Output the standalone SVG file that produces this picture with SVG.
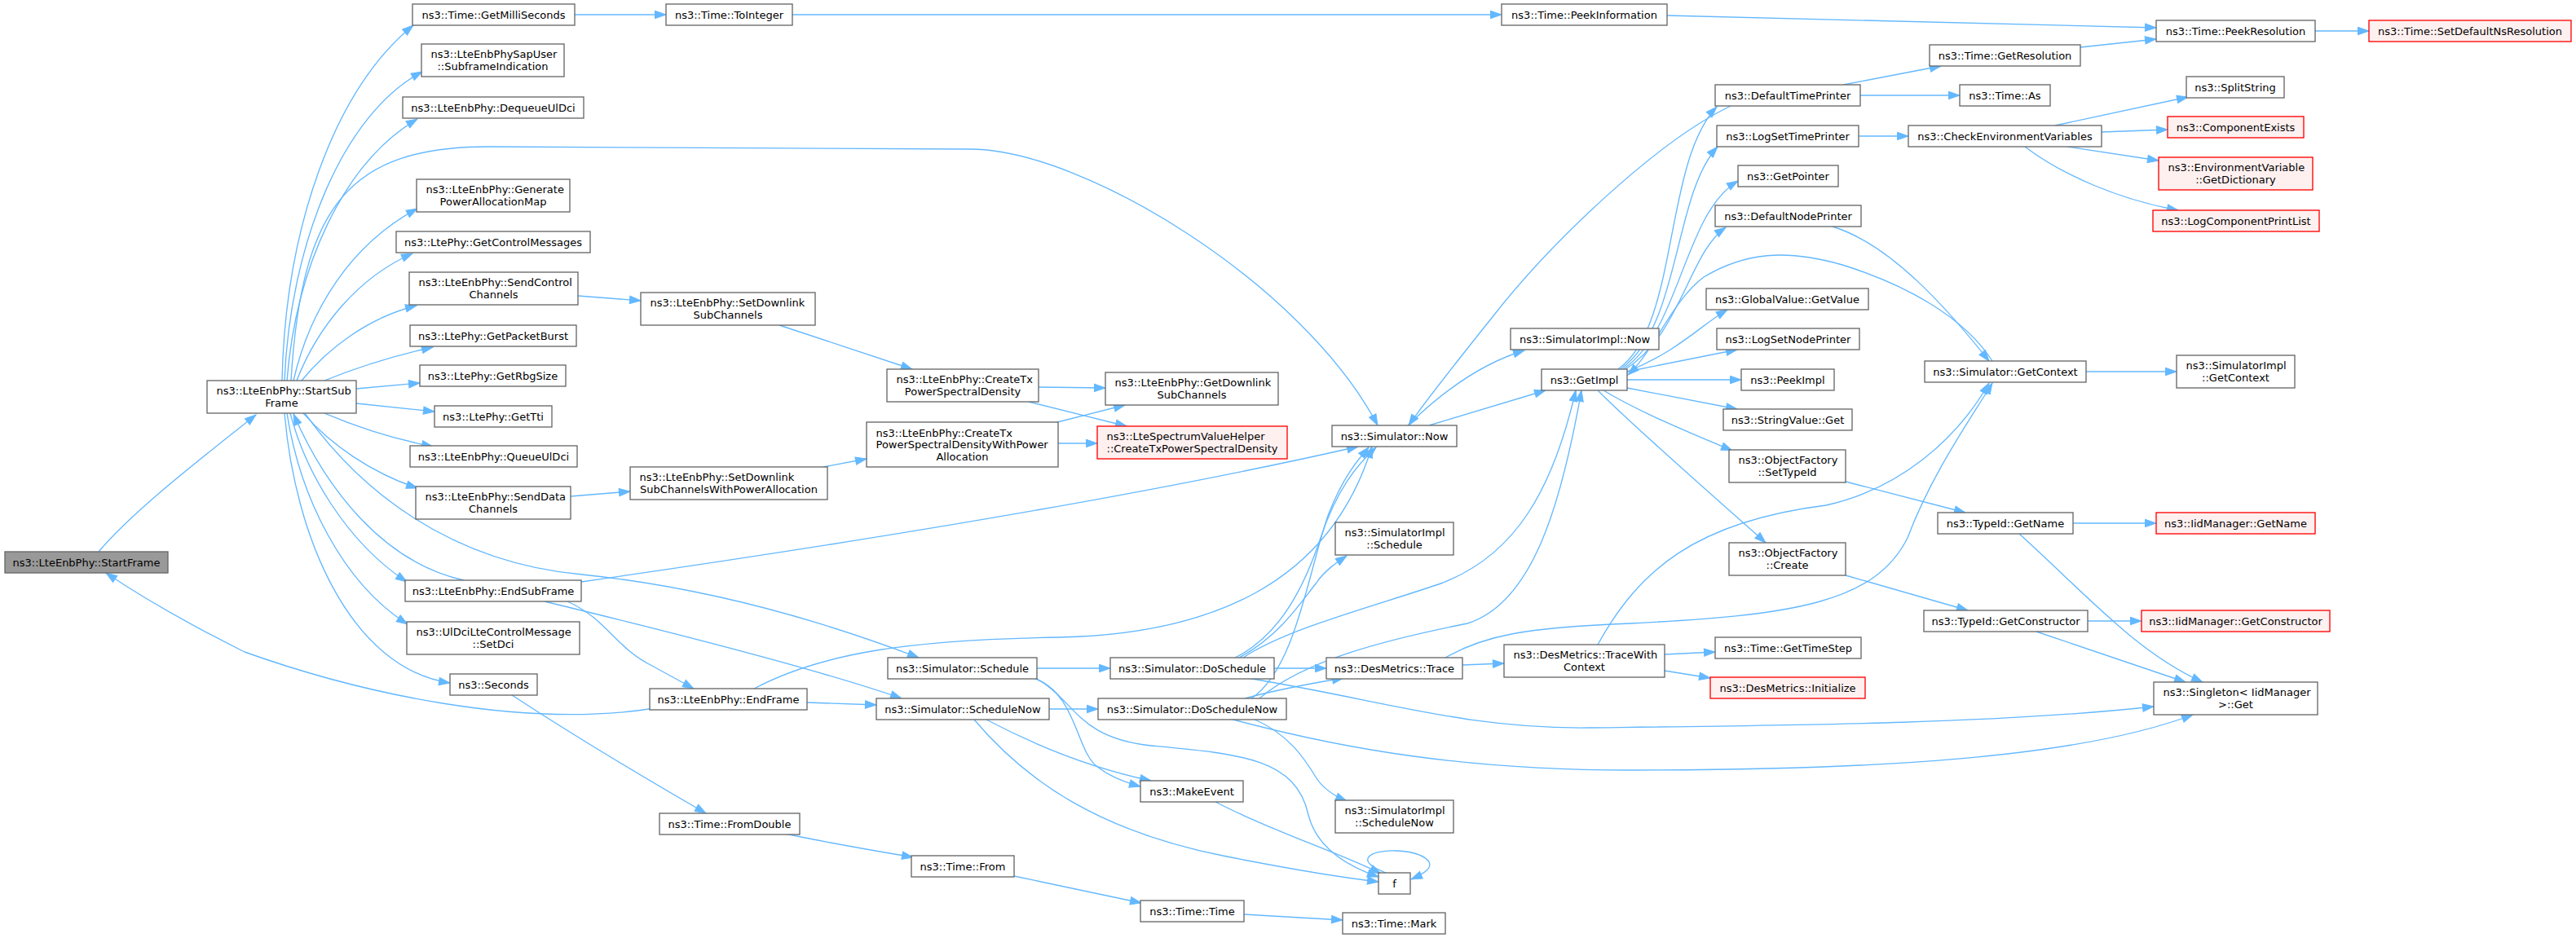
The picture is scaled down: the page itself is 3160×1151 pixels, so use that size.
<svg xmlns="http://www.w3.org/2000/svg" width="3160" height="1151" viewBox="0 0 3160 1151">
<style>
.nd rect{fill:#ffffff;stroke:#666666;stroke-width:1.33}
.rd rect{fill:#fff0f0;stroke:#ff0000;stroke-width:1.33}
.st rect{fill:#999999;stroke:#666666;stroke-width:1.33}
text{font-family:"DejaVu Sans","Liberation Sans",sans-serif;font-size:13px;fill:#000000}
.c{text-anchor:middle}
.l{text-anchor:start}
#edges path{fill:none;stroke:#63b8ff;stroke-width:1.33;marker-end:url(#ah)}
</style>
<defs>
<marker id="ah" markerUnits="userSpaceOnUse" markerWidth="15" markerHeight="11" viewBox="0 0 15 11" refX="13.5" refY="5.5" orient="auto" overflow="visible">
<path d="M0,0.8 L13.5,5.5 L0,10.2 z" fill="#63b8ff" stroke="#63b8ff" stroke-width="1"/>
</marker>
</defs>
<rect x="0" y="0" width="3160" height="1151" fill="#ffffff"/>
<g id="edges">
<path d="M121,677 C165,625 250,560 314,509"/>
<path d="M346,467 C350,280 410,110 507,31"/>
<path d="M349,467 C356,300 420,140 518,88"/>
<path d="M352,467 C363,330 420,200 512,146"/>
<path d="M357,467 C370,250 430,180 600,180 L1190,183 C1330,183 1600,350 1690,522"/>
<path d="M360,467 C380,380 430,300 512,256"/>
<path d="M364,467 C390,400 440,340 506,311"/>
<path d="M370,467 C400,430 450,390 511,375"/>
<path d="M398,467 C440,450 490,435 531,426"/>
<path d="M437,477 L515,470"/>
<path d="M437,495 L533,505"/>
<path d="M398,507 C440,525 490,540 531,548"/>
<path d="M372,507 C405,545 455,580 512,599"/>
<path d="M356,507 C375,580 425,665 499,714"/>
<path d="M352,507 C368,610 420,715 500,766"/>
<path d="M349,507 C362,660 430,820 552,838"/>
<path d="M374,507 C440,600 550,690 714,705 C880,722 1030,770 1127,807"/>
<path d="M569,712 C470,690 400,600 360,508"/>
<path d="M713,714 C950,680 1350,620 1666,548"/>
<path d="M696,738 C745,760 755,795 800,817 C820,828 838,838 851,845"/>
<path d="M668,738 C800,770 1000,820 1106,857"/>
<path d="M803,869 C640,895 440,850 300,800 C230,765 170,730 130,703"/>
<path d="M925,845 C1010,800 1120,785 1300,782 C1480,778 1630,720 1683,548"/>
<path d="M990,862 L1075,865"/>
<path d="M628,853 C700,900 800,960 866,998"/>
<path d="M963,1023 C1020,1035 1080,1045 1120,1052"/>
<path d="M1244,1075 L1400,1108"/>
<path d="M1526,1122 L1647,1129"/>
<path d="M705,18 L817,18"/>
<path d="M972,18 L1842,18"/>
<path d="M2045,19 C2300,26 2500,30 2645,34"/>
<path d="M2840,38 L2906,38"/>
<path d="M2552,58 L2645,48"/>
<path d="M709,363 L786,369"/>
<path d="M700,609 L773,603"/>
<path d="M956,399 L1119,453"/>
<path d="M1010,573 L1063,563"/>
<path d="M1274,475 L1356,476"/>
<path d="M1262,493 L1382,523"/>
<path d="M1297,518 L1380,497"/>
<path d="M1298,544 L1346,544"/>
<path d="M1272,820 L1362,820"/>
<path d="M1268,832 C1320,850 1320,920 1345,940 C1360,952 1380,960 1399,965"/>
<path d="M1272,833 C1320,860 1320,905 1412,915 C1520,925 1590,930 1605,1000 C1615,1040 1650,1062 1691,1076"/>
<path d="M1287,870 L1347,870"/>
<path d="M1210,883 C1280,920 1350,945 1412,958"/>
<path d="M1195,883 C1260,960 1350,1020 1500,1050 C1580,1066 1640,1076 1691,1082"/>
<path d="M1491,984 C1560,1020 1640,1045 1694,1072"/>
<path d="M1700,1071 C1660,1056 1680,1043 1712,1044 C1745,1045 1762,1058 1750,1068 C1745,1073 1738,1076 1731,1079"/>
<path d="M1515,807 C1570,780 1600,720 1620,660 C1640,600 1665,570 1688,549"/>
<path d="M1525,807 C1580,770 1700,740 1770,715 C1860,680 1905,600 1933,479"/>
<path d="M1520,807 C1570,780 1595,740 1615,715 C1625,700 1640,690 1652,682"/>
<path d="M1563,820 L1627,820"/>
<path d="M1530,832 C1700,860 1800,895 1950,893 C2200,890 2450,888 2642,867"/>
<path d="M1535,857 C1590,820 1605,700 1630,630 C1648,585 1665,565 1679,549"/>
<path d="M1545,857 C1600,810 1700,785 1800,765 C1880,740 1915,620 1940,479"/>
<path d="M1527,857 C1560,848 1600,840 1648,832"/>
<path d="M1537,882 C1580,900 1600,930 1615,955 C1625,970 1640,978 1652,983"/>
<path d="M1509,882 C1650,920 1800,945 2000,945 C2300,945 2550,930 2690,877"/>
<path d="M1753,522 L1896,479"/>
<path d="M1727,522 C1770,480 1820,445 1870,430"/>
<path d="M2123,130 C2030,175 1900,300 1830,390 C1790,440 1750,490 1728,522"/>
<path d="M2261,104 L2381,81"/>
<path d="M2282,117 L2404,117"/>
<path d="M1985,453 C2060,400 2040,200 2106,131"/>
<path d="M1988,453 C2062,400 2052,240 2107,180"/>
<path d="M1991,453 C2062,405 2065,262 2132,222"/>
<path d="M1994,453 C2062,410 2072,310 2117,279"/>
<path d="M1996,456 C2060,430 2085,400 2119,380"/>
<path d="M1996,456 L2131,429"/>
<path d="M1996,466 L2136,466"/>
<path d="M1996,476 L2131,502"/>
<path d="M1967,479 C2010,505 2070,530 2125,553"/>
<path d="M1960,479 C2000,520 2120,625 2166,666"/>
<path d="M2444,443 C2410,390 2340,350 2260,325 C2190,305 2140,310 2090,340 C2050,370 2030,430 1997,460"/>
<path d="M2248,278 C2320,300 2390,380 2440,443"/>
<path d="M2559,456 L2670,456"/>
<path d="M2280,167 L2341,167"/>
<path d="M2521,154 L2684,119"/>
<path d="M2578,162 L2659,159"/>
<path d="M2536,180 L2648,197"/>
<path d="M2484,180 C2530,215 2600,245 2672,258"/>
<path d="M2264,591 L2411,629"/>
<path d="M2264,706 L2414,749"/>
<path d="M2543,642 L2645,642"/>
<path d="M2477,655 C2560,730 2620,800 2702,837"/>
<path d="M2561,762 L2627,762"/>
<path d="M2498,775 L2681,837"/>
<path d="M1794,816 L1845,814"/>
<path d="M1773,807 C1820,780 1870,770 2000,765 C2200,755 2300,740 2340,660 C2370,580 2420,510 2444,470"/>
<path d="M1960,791 C2010,700 2080,640 2240,620 C2330,600 2400,540 2440,470"/>
<path d="M2042,803 L2104,800"/>
<path d="M2042,823 L2098,832"/>
</g>
<g id="n0" class="st"><rect x="6" y="677" width="200" height="26"/><text class="c" x="106" y="694.5">ns3::LteEnbPhy::StartFrame</text></g>
<g id="n1" class="nd"><rect x="254" y="467" width="183" height="40"/><text class="l" x="265.5" y="484.25">ns3::LteEnbPhy::StartSub</text><text class="c" x="345.5" y="498.75">Frame</text></g>
<g id="n2" class="nd"><rect x="506" y="5" width="199" height="26"/><text class="c" x="605.5" y="22.5">ns3::Time::GetMilliSeconds</text></g>
<g id="n3" class="nd"><rect x="517" y="54" width="175" height="40"/><text class="l" x="528.5" y="71.25">ns3::LteEnbPhySapUser</text><text class="c" x="604.5" y="85.75">::SubframeIndication</text></g>
<g id="n4" class="nd"><rect x="494" y="119" width="222" height="26"/><text class="c" x="605" y="136.5">ns3::LteEnbPhy::DequeueUlDci</text></g>
<g id="n5" class="nd"><rect x="511" y="220" width="188" height="40"/><text class="l" x="522.5" y="237.25">ns3::LteEnbPhy::Generate</text><text class="c" x="605" y="251.75">PowerAllocationMap</text></g>
<g id="n6" class="nd"><rect x="486" y="284" width="238" height="26"/><text class="c" x="605" y="301.5">ns3::LtePhy::GetControlMessages</text></g>
<g id="n7" class="nd"><rect x="502" y="334" width="207" height="40"/><text class="l" x="513.5" y="351.25">ns3::LteEnbPhy::SendControl</text><text class="c" x="605.5" y="365.75">Channels</text></g>
<g id="n8" class="nd"><rect x="503" y="399" width="204" height="26"/><text class="c" x="605" y="416.5">ns3::LtePhy::GetPacketBurst</text></g>
<g id="n9" class="nd"><rect x="515" y="448" width="179" height="26"/><text class="c" x="604.5" y="465.5">ns3::LtePhy::GetRbgSize</text></g>
<g id="n10" class="nd"><rect x="533" y="498" width="144" height="26"/><text class="c" x="605" y="515.5">ns3::LtePhy::GetTti</text></g>
<g id="n11" class="nd"><rect x="503" y="547" width="205" height="26"/><text class="c" x="605.5" y="564.5">ns3::LteEnbPhy::QueueUlDci</text></g>
<g id="n12" class="nd"><rect x="510" y="597" width="190" height="40"/><text class="l" x="521.5" y="614.25">ns3::LteEnbPhy::SendData</text><text class="c" x="605" y="628.75">Channels</text></g>
<g id="n13" class="nd"><rect x="497" y="712" width="216" height="26"/><text class="c" x="605" y="729.5">ns3::LteEnbPhy::EndSubFrame</text></g>
<g id="n14" class="nd"><rect x="499" y="763" width="212" height="40"/><text class="l" x="510.5" y="780.25">ns3::UlDciLteControlMessage</text><text class="c" x="605" y="794.75">::SetDci</text></g>
<g id="n15" class="nd"><rect x="552" y="827" width="107" height="26"/><text class="c" x="605.5" y="844.5">ns3::Seconds</text></g>
<g id="n16" class="nd"><rect x="817" y="5" width="155" height="26"/><text class="c" x="894.5" y="22.5">ns3::Time::ToInteger</text></g>
<g id="n17" class="nd"><rect x="786" y="359" width="214" height="40"/><text class="l" x="797.5" y="376.25">ns3::LteEnbPhy::SetDownlink</text><text class="c" x="893" y="390.75">SubChannels</text></g>
<g id="n18" class="nd"><rect x="773" y="573" width="242" height="40"/><text class="l" x="784.5" y="590.25">ns3::LteEnbPhy::SetDownlink</text><text class="c" x="894" y="604.75">SubChannelsWithPowerAllocation</text></g>
<g id="n19" class="nd"><rect x="797" y="845" width="193" height="26"/><text class="c" x="893.5" y="862.5">ns3::LteEnbPhy::EndFrame</text></g>
<g id="n20" class="nd"><rect x="809" y="998" width="172" height="26"/><text class="c" x="895" y="1015.5">ns3::Time::FromDouble</text></g>
<g id="n21" class="nd"><rect x="1088" y="453" width="186" height="40"/><text class="l" x="1099.5" y="470.25">ns3::LteEnbPhy::CreateTx</text><text class="c" x="1181" y="484.75">PowerSpectralDensity</text></g>
<g id="n22" class="nd"><rect x="1063" y="518" width="235" height="55"/><text class="l" x="1074.5" y="535.5">ns3::LteEnbPhy::CreateTx</text><text class="l" x="1074.5" y="550">PowerSpectralDensityWithPower</text><text class="c" x="1180.5" y="564.5">Allocation</text></g>
<g id="n23" class="nd"><rect x="1089" y="807" width="183" height="26"/><text class="c" x="1180.5" y="824.5">ns3::Simulator::Schedule</text></g>
<g id="n24" class="nd"><rect x="1075" y="857" width="212" height="26"/><text class="c" x="1181" y="874.5">ns3::Simulator::ScheduleNow</text></g>
<g id="n25" class="nd"><rect x="1118" y="1050" width="126" height="26"/><text class="c" x="1181" y="1067.5">ns3::Time::From</text></g>
<g id="n26" class="nd"><rect x="1356" y="457" width="212" height="40"/><text class="l" x="1367.5" y="474.25">ns3::LteEnbPhy::GetDownlink</text><text class="c" x="1462" y="488.75">SubChannels</text></g>
<g id="n27" class="rd"><rect x="1346" y="523" width="233" height="40"/><text class="l" x="1357.5" y="540.25">ns3::LteSpectrumValueHelper</text><text class="c" x="1462.5" y="554.75">::CreateTxPowerSpectralDensity</text></g>
<g id="n28" class="nd"><rect x="1362" y="807" width="201" height="26"/><text class="c" x="1462.5" y="824.5">ns3::Simulator::DoSchedule</text></g>
<g id="n29" class="nd"><rect x="1347" y="857" width="231" height="26"/><text class="c" x="1462.5" y="874.5">ns3::Simulator::DoScheduleNow</text></g>
<g id="n30" class="nd"><rect x="1399" y="958" width="126" height="26"/><text class="c" x="1462" y="975.5">ns3::MakeEvent</text></g>
<g id="n31" class="nd"><rect x="1399" y="1105" width="127" height="26"/><text class="c" x="1462.5" y="1122.5">ns3::Time::Time</text></g>
<g id="n32" class="nd"><rect x="1634" y="522" width="153" height="26"/><text class="c" x="1710.5" y="539.5">ns3::Simulator::Now</text></g>
<g id="n33" class="nd"><rect x="1638" y="641" width="145" height="40"/><text class="l" x="1649.5" y="658.25">ns3::SimulatorImpl</text><text class="c" x="1710.5" y="672.75">::Schedule</text></g>
<g id="n34" class="nd"><rect x="1627" y="807" width="167" height="26"/><text class="c" x="1710.5" y="824.5">ns3::DesMetrics::Trace</text></g>
<g id="n35" class="nd"><rect x="1638" y="982" width="145" height="40"/><text class="l" x="1649.5" y="999.25">ns3::SimulatorImpl</text><text class="c" x="1710.5" y="1013.75">::ScheduleNow</text></g>
<g id="n36" class="nd"><rect x="1691" y="1071" width="39" height="26"/><text class="c" x="1710.5" y="1088.5">f</text></g>
<g id="n37" class="nd"><rect x="1647" y="1120" width="126" height="26"/><text class="c" x="1710" y="1137.5">ns3::Time::Mark</text></g>
<g id="n38" class="nd"><rect x="1842" y="5" width="203" height="26"/><text class="c" x="1943.5" y="22.5">ns3::Time::PeekInformation</text></g>
<g id="n39" class="nd"><rect x="1853" y="403" width="182" height="26"/><text class="c" x="1944" y="420.5">ns3::SimulatorImpl::Now</text></g>
<g id="n40" class="nd"><rect x="1891" y="453" width="105" height="26"/><text class="c" x="1943.5" y="470.5">ns3::GetImpl</text></g>
<g id="n41" class="nd"><rect x="1845" y="791" width="197" height="40"/><text class="l" x="1856.5" y="808.25">ns3::DesMetrics::TraceWith</text><text class="c" x="1943.5" y="822.75">Context</text></g>
<g id="n42" class="nd"><rect x="2104" y="104" width="178" height="26"/><text class="c" x="2193" y="121.5">ns3::DefaultTimePrinter</text></g>
<g id="n43" class="nd"><rect x="2106" y="154" width="174" height="26"/><text class="c" x="2193" y="171.5">ns3::LogSetTimePrinter</text></g>
<g id="n44" class="nd"><rect x="2132" y="203" width="123" height="26"/><text class="c" x="2193.5" y="220.5">ns3::GetPointer</text></g>
<g id="n45" class="nd"><rect x="2104" y="252" width="179" height="26"/><text class="c" x="2193.5" y="269.5">ns3::DefaultNodePrinter</text></g>
<g id="n46" class="nd"><rect x="2093" y="354" width="199" height="26"/><text class="c" x="2192.5" y="371.5">ns3::GlobalValue::GetValue</text></g>
<g id="n47" class="nd"><rect x="2106" y="403" width="175" height="26"/><text class="c" x="2193.5" y="420.5">ns3::LogSetNodePrinter</text></g>
<g id="n48" class="nd"><rect x="2136" y="453" width="114" height="26"/><text class="c" x="2193" y="470.5">ns3::PeekImpl</text></g>
<g id="n49" class="nd"><rect x="2114" y="502" width="158" height="26"/><text class="c" x="2193" y="519.5">ns3::StringValue::Get</text></g>
<g id="n50" class="nd"><rect x="2121" y="552" width="143" height="40"/><text class="l" x="2132.5" y="569.25">ns3::ObjectFactory</text><text class="c" x="2192.5" y="583.75">::SetTypeId</text></g>
<g id="n51" class="nd"><rect x="2121" y="666" width="143" height="40"/><text class="l" x="2132.5" y="683.25">ns3::ObjectFactory</text><text class="c" x="2192.5" y="697.75">::Create</text></g>
<g id="n52" class="nd"><rect x="2104" y="782" width="179" height="26"/><text class="c" x="2193.5" y="799.5">ns3::Time::GetTimeStep</text></g>
<g id="n53" class="rd"><rect x="2098" y="831" width="190" height="26"/><text class="c" x="2193" y="848.5">ns3::DesMetrics::Initialize</text></g>
<g id="n54" class="nd"><rect x="2367" y="55" width="185" height="26"/><text class="c" x="2459.5" y="72.5">ns3::Time::GetResolution</text></g>
<g id="n55" class="nd"><rect x="2404" y="104" width="111" height="26"/><text class="c" x="2459.5" y="121.5">ns3::Time::As</text></g>
<g id="n56" class="nd"><rect x="2341" y="154" width="237" height="26"/><text class="c" x="2459.5" y="171.5">ns3::CheckEnvironmentVariables</text></g>
<g id="n57" class="nd"><rect x="2361" y="443" width="198" height="26"/><text class="c" x="2460" y="460.5">ns3::Simulator::GetContext</text></g>
<g id="n58" class="nd"><rect x="2377" y="629" width="166" height="26"/><text class="c" x="2460" y="646.5">ns3::TypeId::GetName</text></g>
<g id="n59" class="nd"><rect x="2360" y="749" width="201" height="26"/><text class="c" x="2460.5" y="766.5">ns3::TypeId::GetConstructor</text></g>
<g id="n60" class="nd"><rect x="2645" y="25" width="195" height="26"/><text class="c" x="2742.5" y="42.5">ns3::Time::PeekResolution</text></g>
<g id="n61" class="nd"><rect x="2682" y="94" width="120" height="26"/><text class="c" x="2742" y="111.5">ns3::SplitString</text></g>
<g id="n62" class="rd"><rect x="2659" y="143" width="167" height="26"/><text class="c" x="2742.5" y="160.5">ns3::ComponentExists</text></g>
<g id="n63" class="rd"><rect x="2648" y="193" width="189" height="40"/><text class="l" x="2659.5" y="210.25">ns3::EnvironmentVariable</text><text class="c" x="2742.5" y="224.75">::GetDictionary</text></g>
<g id="n64" class="rd"><rect x="2641" y="258" width="204" height="26"/><text class="c" x="2743" y="275.5">ns3::LogComponentPrintList</text></g>
<g id="n65" class="nd"><rect x="2670" y="436" width="145" height="40"/><text class="l" x="2681.5" y="453.25">ns3::SimulatorImpl</text><text class="c" x="2742.5" y="467.75">::GetContext</text></g>
<g id="n66" class="rd"><rect x="2645" y="629" width="195" height="26"/><text class="c" x="2742.5" y="646.5">ns3::IidManager::GetName</text></g>
<g id="n67" class="rd"><rect x="2627" y="749" width="231" height="26"/><text class="c" x="2742.5" y="766.5">ns3::IidManager::GetConstructor</text></g>
<g id="n68" class="nd"><rect x="2642" y="837" width="201" height="40"/><text class="l" x="2653.5" y="854.25">ns3::Singleton&lt; IidManager</text><text class="c" x="2742.5" y="868.75">&gt;::Get</text></g>
<g id="n69" class="rd"><rect x="2906" y="25" width="248" height="26"/><text class="c" x="3030" y="42.5">ns3::Time::SetDefaultNsResolution</text></g>
</svg>
